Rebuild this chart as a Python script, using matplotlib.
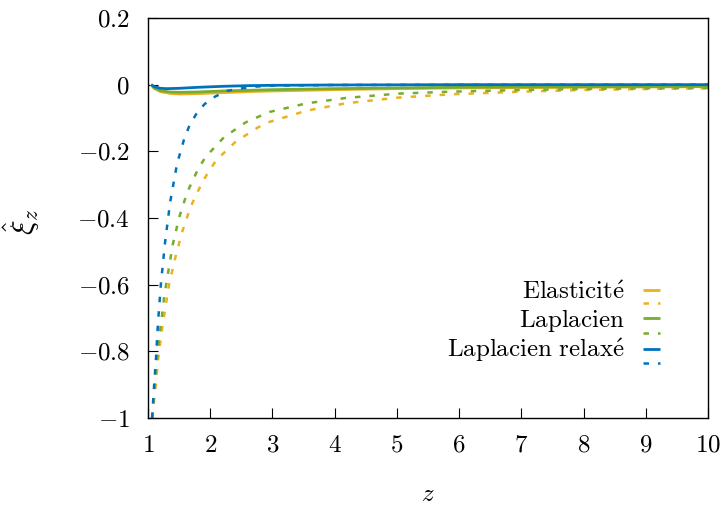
import matplotlib
matplotlib.use('Agg')
import matplotlib.pyplot as plt
from matplotlib.ticker import FuncFormatter

plt.rcParams['mathtext.fontset'] = 'cm'
plt.rcParams['font.family'] = 'serif'
plt.rcParams['font.serif'] = ['cmr10', 'DejaVu Serif']

# couleurs (palette type MATLAB)
C_ELAS = '#EDB120'
C_LAP = '#77AC30'
C_RELAX = '#0072BD'

# --- courbes pleines ---
z_elas_s = [1.05, 1.1, 1.2, 1.35, 1.5, 1.8, 2.2, 2.6, 3.0, 4.0, 5.0, 6.0, 8.0, 10.0]
v_elas_s = [0.0, -0.011, -0.021, -0.026, -0.028, -0.027, -0.024, -0.021, -0.019, -0.015, -0.012, -0.010, -0.008, -0.006]
z_lap_s = [1.05, 1.1, 1.2, 1.35, 1.5, 1.8, 2.2, 2.6, 3.0, 4.0, 5.0, 6.0, 8.0, 10.0]
v_lap_s = [0.0, -0.010, -0.018, -0.022, -0.023, -0.022, -0.019, -0.017, -0.015, -0.012, -0.010, -0.008, -0.006, -0.005]
z_rel_s = [1.05, 1.1, 1.2, 1.3, 1.5, 1.8, 2.2, 2.6, 3.0, 4.0, 6.0, 10.0]
v_rel_s = [0.0, -0.006, -0.011, -0.012, -0.011, -0.008, -0.005, -0.003, -0.002, -0.001, 0.0, 0.0]

# --- courbes pointillées ---
z_elas_d = [1.07, 1.10, 1.14, 1.156, 1.21, 1.273, 1.34, 1.44, 1.55, 1.69, 1.87, 1.98, 2.10, 2.41,
            2.77, 2.93, 3.55, 4.18, 5.01, 5.87, 7.0, 8.0, 9.0, 10.0]
v_elas_d = [-1.0, -0.94, -0.874, -0.834, -0.754, -0.676, -0.598, -0.518, -0.441, -0.364, -0.294, -0.259,
            -0.226, -0.171, -0.128, -0.113, -0.078, -0.056, -0.039, -0.029, -0.021, -0.016, -0.013, -0.011]
z_lap_d = [1.07, 1.12, 1.18, 1.21, 1.26, 1.33, 1.40, 1.50, 1.63, 1.81, 1.93, 2.22, 2.57, 2.95,
           3.55, 4.18, 5.01, 5.87, 7.0, 8.0, 9.0, 10.0]
v_lap_d = [-1.0, -0.874, -0.754, -0.716, -0.636, -0.556, -0.478, -0.399, -0.323, -0.251, -0.216, -0.158,
           -0.113, -0.082, -0.056, -0.040, -0.027, -0.021, -0.016, -0.013, -0.011, -0.010]
z_rel_d = [1.065, 1.108, 1.124, 1.161, 1.209, 1.273, 1.354, 1.466, 1.526, 1.584, 1.664, 1.772, 1.905,
           2.077, 2.265, 2.506, 2.72, 2.96, 4.0, 10.0]
v_rel_d = [-1.0, -0.874, -0.834, -0.714, -0.594, -0.475, -0.355, -0.238, -0.199, -0.161, -0.124, -0.089,
           -0.059, -0.036, -0.019, -0.011, -0.006, -0.003, -0.001, 0.0]

labels = [r'$\mathrm{Elasticit\acute{e}}$', r'$\mathrm{Laplacien}$', r'$\mathrm{Laplacien\ relax\acute{e}}$']
x_ticks = [1, 2, 3, 4, 5, 6, 7, 8, 9, 10]
y_ticks = [-1, -0.8, -0.6, -0.4, -0.2, 0, 0.2]

FS = 18
DOT = (0, (2.2, 3.6))

fig = plt.figure(figsize=(7.23, 5.08), dpi=100)
ax = fig.add_axes([0.2047, 0.1772, 0.7746, 0.7874])

handles = []
series = [(z_elas_s, v_elas_s, z_elas_d, v_elas_d, C_ELAS),
          (z_lap_s, v_lap_s, z_lap_d, v_lap_d, C_LAP),
          (z_rel_s, v_rel_s, z_rel_d, v_rel_d, C_RELAX)]
for zs, vs, zd, vd, c in series:
    h1, = ax.plot(zs, vs, color=c, lw=2.0, solid_capstyle='butt')
    h2, = ax.plot(zd, vd, color=c, lw=1.8, linestyle=DOT, dash_capstyle='butt')
    handles += [h1, h2]

leg_labels = [labels[0], '', labels[1], '', labels[2], '']
ax.legend(handles, leg_labels, loc='center right', bbox_to_anchor=(0.914, 0.2225),
          frameon=False, markerfirst=False, fontsize=FS, handlelength=0.68,
          handletextpad=0.72, labelspacing=-0.39, borderpad=0, borderaxespad=0)

ax.set_xlim(1, 10)
ax.set_ylim(-1, 0.2)
ax.set_xticks(x_ticks)
ax.set_yticks(y_ticks)


def fmt(v, pos):
    return '$%g$' % round(v, 1)


ax.xaxis.set_major_formatter(FuncFormatter(fmt))
ax.yaxis.set_major_formatter(FuncFormatter(fmt))
ax.tick_params(direction='in', length=7, width=0.8, labelsize=FS, top=False, right=False)
ax.tick_params(axis='y', pad=13)
ax.tick_params(axis='x', pad=12)
for sp in ax.spines.values():
    sp.set_linewidth(1.0)

ax.set_xlabel(r'$z$', fontsize=FS)
ax.set_ylabel(r'$\hat{\xi}_z$', fontsize=22)
ax.xaxis.set_label_coords(0.5, -0.165)
ax.yaxis.set_label_coords(-0.19, 0.49)

fig.savefig('out.png', dpi=100)
